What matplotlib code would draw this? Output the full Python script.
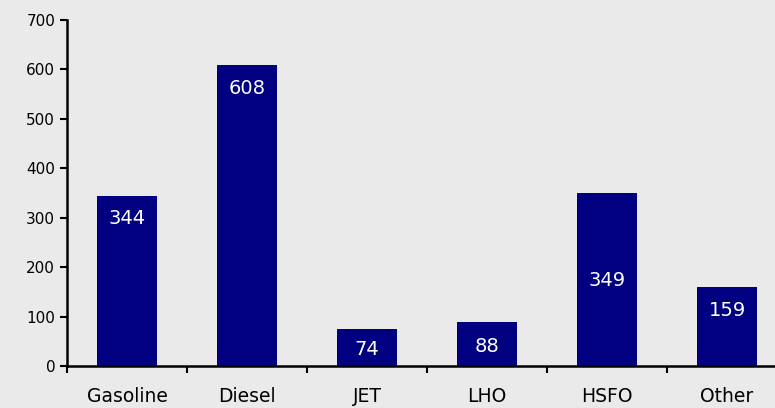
import matplotlib.pyplot as plt
import numpy as np

categories = ["Gasoline", "Diesel", "JET", "LHO", "HSFO", "Other"]
values = [344, 608, 74, 88, 349, 159]
# where the value label sits, as a fraction of bar height
label_frac = [0.87, 0.923, 0.46, 0.455, 0.493, 0.70]

BG = "#eaeaea"
NAVY = "#000080"

fig = plt.figure(figsize=(7.75, 4.08), dpi=100, facecolor=BG)
ax = fig.add_axes([0.0865, 0.103, 0.929, 0.848], facecolor=BG)

x = np.arange(len(categories))
ax.bar(x, values, 0.5, color=NAVY, zorder=2)

# value labels sit in a navy box, which pokes below the axis on the short JET bar
for xi, v, f in zip(x, values, label_frac):
    ax.text(xi, v * f, f"{v}", ha="center", va="center", color="white",
            fontsize=14, zorder=5, clip_on=False,
            bbox=dict(boxstyle="square,pad=0.3", fc=NAVY, ec="none"))

ax.set_xlim(-0.5, len(categories) - 0.5)
ax.set_ylim(0, 700)
ax.set_yticks(np.arange(0, 701, 100))
ax.tick_params(axis="y", labelsize=11, length=5, width=1.5, direction="out")

ax.set_xticks(x)
ax.set_xticklabels(categories, fontsize=13.5)
ax.set_xticks(np.arange(len(categories)) - 0.5, minor=True)
ax.tick_params(axis="x", which="major", length=0, pad=15)
ax.tick_params(axis="x", which="minor", length=5, width=1.5, direction="out")

for s in ["top", "right"]:
    ax.spines[s].set_visible(False)
for s in ["left", "bottom"]:
    ax.spines[s].set_linewidth(1.8)
ax.spines["bottom"].set_zorder(4)

fig.savefig("out.png", dpi=100, facecolor=BG)
